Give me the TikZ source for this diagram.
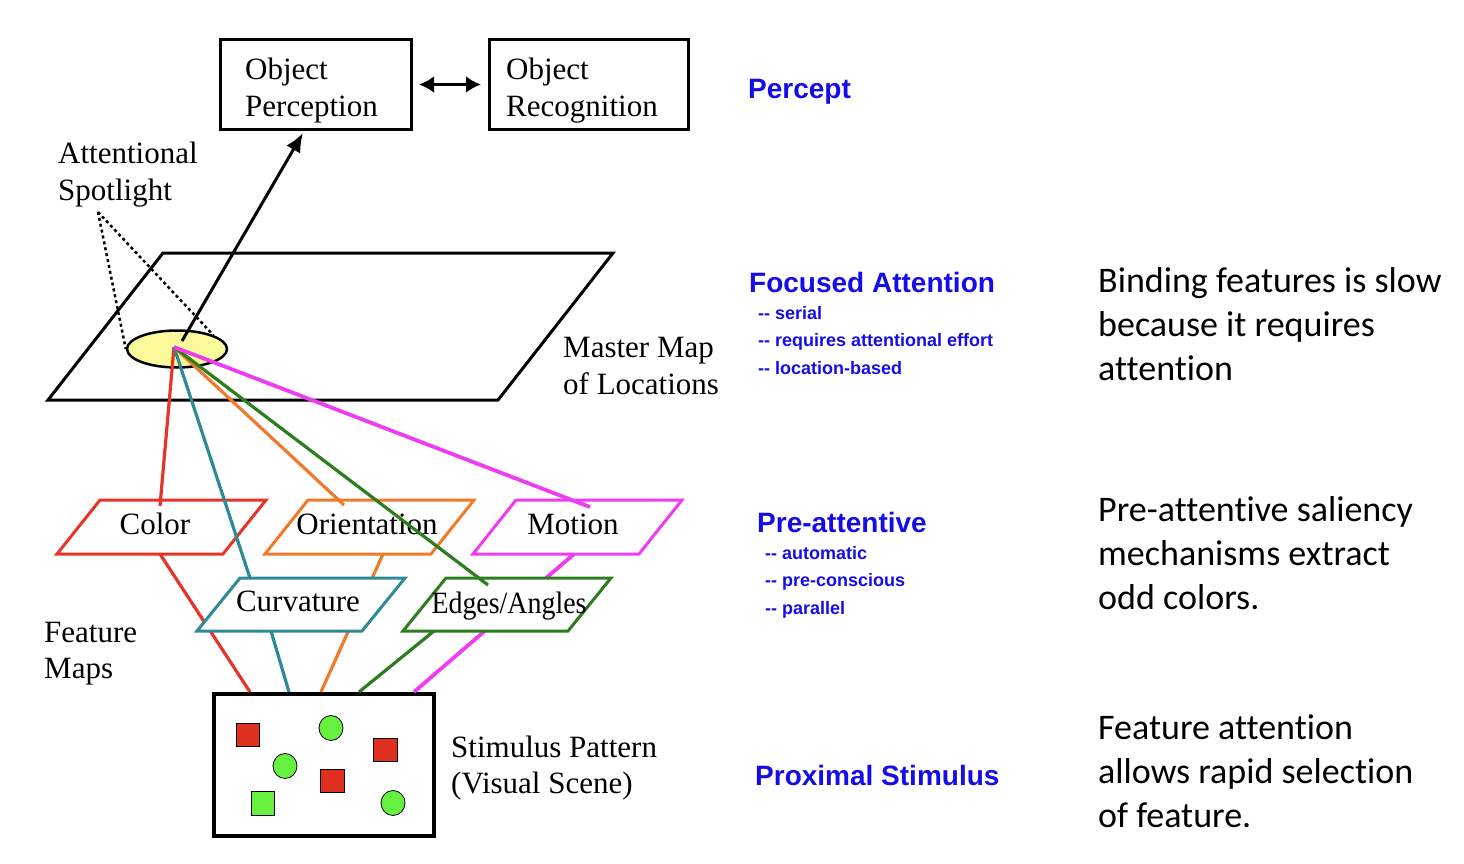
\documentclass[tikz,border=0pt]{standalone}
\usepackage{fontspec}
\setmainfont{Liberation Serif}
\newfontfamily\bluefont{Liberation Sans}
\newfontfamily\notefont[Ligatures={NoCommon}]{Carlito}
\newfontfamily\narrowserif[FakeStretch=0.9]{Liberation Serif}
\usetikzlibrary{arrows.meta,calc,shapes.geometric}
\definecolor{cred}{RGB}{232,52,40}
\definecolor{cteal}{RGB}{46,138,150}
\definecolor{corange}{RGB}{240,122,42}
\definecolor{cgreen}{RGB}{44,125,30}
\definecolor{cmag}{RGB}{240,60,240}
\definecolor{cyel}{RGB}{250,250,155}
\definecolor{cblue}{RGB}{22,12,232}
\definecolor{sred}{RGB}{224,48,32}
\definecolor{sgreen}{RGB}{102,240,64}
\begin{document}
\begin{tikzpicture}[x=1pt,y=-1pt,
  serif/.style={anchor=base west, inner sep=0pt, font=\fontsize{31}{37}\selectfont},
  heading/.style={anchor=base west, inner sep=0pt, text=cblue, font=\bluefont\bfseries\fontsize{28}{34}\selectfont},
  sub/.style={anchor=base west, inner sep=0pt, text=cblue, font=\bluefont\bfseries\fontsize{18}{22}\selectfont},
  note/.style={anchor=base west, inner sep=0pt, font=\notefont\fontsize{36}{44}\selectfont},
  objbox/.style={draw, line width=3pt, rectangle, minimum height=90pt, inner sep=0pt},
  fmap/.style={line width=3pt, fill=white, line join=miter},
  link/.style={line width=3.2pt},
  stsq/.style={draw=black, line width=0.8pt},
]
\useasboundingbox (0,0) rectangle (1464,864);

% top boxes
\node[objbox, minimum width=191pt] (op) at (316,84.5) {};
\node[objbox, minimum width=199pt] (or) at (589,84.5) {};
\node[serif] (opt1) at (245,80) {Object};
\node[serif] (opt2) at (245,117) {Perception};
\node[serif] (ort1) at (506,80) {Object};
\node[serif] (ort2) at (506,117) {Recognition};
\draw[line width=3.5pt, {Latex[length=15pt,width=17pt]}-{Latex[length=15pt,width=17pt]}, shorten <=6pt, shorten >=7pt] (op.east) -- (or.west);

% spotlight label
\node[serif] (al1) at (58,164) {Attentional};
\node[serif] (al2) at (58,200) {Spotlight};

% master map
\draw[line width=3pt, line join=miter] (48,400) -- (163,253) -- (613,253) -- (498,400) -- cycle;
\node[serif] (mm1) at (563,357) {Master Map};
\node[serif] (mm2) at (563,394) {of Locations};

% feature maps attach points
\coordinate (colT) at (160,506);  \coordinate (colB) at (160,554);
\coordinate (curT) at (250,578);  \coordinate (curB) at (271,631);
\coordinate (oriT) at (344,505);  \coordinate (oriB) at (383,554);
\coordinate (edgT) at (488,585);  \coordinate (edgB) at (434,631);
\coordinate (motT) at (590,507);  \coordinate (motB) at (574,554);

% stimulus box
\node[draw, line width=4pt, minimum width=220pt, minimum height=142pt, inner sep=0pt] (stim) at (324,765) {};
\coordinate (stR) at (250,692);
\coordinate (stT) at (289,692);
\coordinate (stO) at (321,692);
\coordinate (stG) at (359,692);
\coordinate (stM) at (414,692);

% lower links
\draw[link, cred] (colB) -- (stR);
\draw[link, cteal] (curB) -- (stT);
\draw[link, corange] (oriB) -- (stO);
\draw[link, cgreen] (edgB) -- (stG);
\draw[link, cmag, line width=3.8pt] (motB) -- (stM);

% feature boxes
\draw[fmap, draw=cred] (57,554) -- (100,500) -- (266,500) -- (223,554) -- cycle;
\draw[fmap, draw=corange] (265,554) -- (308,500) -- (474,500) -- (431,554) -- cycle;
\draw[fmap, draw=cmag] (473,554) -- (516,500) -- (682,500) -- (639,554) -- cycle;
\draw[fmap, draw=cteal] (197,631) -- (240,578) -- (405,578) -- (362,631) -- cycle;
\draw[fmap, draw=cgreen] (403,631) -- (446,578) -- (611,578) -- (568,631) -- cycle;
\node[serif, anchor=base] (tcol) at (155,534) {Color};
\node[serif, anchor=base] (tori) at (367,534) {Orientation};
\node[serif, anchor=base] (tmot) at (573,534) {Motion};
\node[serif, anchor=base] (tcur) at (298,611) {Curvature};
\node[serif, anchor=base, font=\narrowserif\fontsize{31}{37}\selectfont] (tedg) at (509,613) {Edges/Angles};
\node[serif] (fm1) at (44,642) {Feature};
\node[serif] (fm2) at (44,678) {Maps};

% spotlight ellipse
\node[ellipse, draw, line width=2.5pt, fill=cyel, minimum width=100pt, minimum height=37pt, inner sep=0pt] (spot) at (177,349) {};
\coordinate (c0) at (174,347);
\coordinate (sp0) at (182,341);
\coordinate (dotA) at (98,212);
\draw[line width=2.5pt, dash pattern=on 3pt off 3pt] (dotA) -- (spot.west);
\draw[line width=2.5pt, dash pattern=on 3pt off 3pt] (dotA) -- (spot.north east);
\draw[line width=3pt, -{Latex[length=19pt,width=16pt]}] (sp0) -- ($(op.south)+(-13,2)$);

% upper links
\draw[link, cred] (c0) -- (colT);
\draw[link, cteal] (c0) -- (curT);
\draw[link, corange] (c0) -- (oriT);
\draw[link, cgreen] (c0) -- (edgT);
\draw[link, cmag, line width=3.8pt] (c0) -- (motT);

% stimulus contents
\draw[stsq, fill=sred] (236,723) rectangle (259,746);
\draw[stsq, fill=sred] (373,738) rectangle (397,761);
\draw[stsq, fill=sred] (320,769) rectangle (344,792);
\draw[stsq, fill=sgreen] (251,791) rectangle (274,815);
\draw[stsq, fill=sgreen] (331,728) ellipse [x radius=12, y radius=12.5];
\draw[stsq, fill=sgreen] (285,766) ellipse [x radius=12, y radius=12.5];
\draw[stsq, fill=sgreen] (393,803) ellipse [x radius=12, y radius=12.5];
\node[serif] (sp1) at (451,757) {Stimulus Pattern};
\node[serif] (sp2) at (451,793) {(Visual Scene)};

% blue labels
\node[heading] (h1) at (748,99) {Percept};
\node[heading] (h2) at (749,292) {Focused Attention};
\node[sub] (h2a) at (758,319) {-{}- serial};
\node[sub] (h2b) at (758,346) {-{}- requires attentional effort};
\node[sub] (h2c) at (758,374) {-{}- location-based};
\node[heading] (h3) at (757,532) {Pre-attentive};
\node[sub] (h3a) at (765,559) {-{}- automatic};
\node[sub] (h3b) at (765,586) {-{}- pre-conscious};
\node[sub] (h3c) at (765,614) {-{}- parallel};
\node[heading] (h4) at (755,785) {Proximal Stimulus};

% notes
\node[note] (n1a) at (1098,292) {Binding features is slow};
\node[note] (n1b) at (1098,336) {because it requires};
\node[note] (n1c) at (1098,380) {attention};
\node[note] (n2a) at (1098,521) {Pre-attentive saliency};
\node[note] (n2b) at (1098,565) {mechanisms extract};
\node[note] (n2c) at (1098,609) {odd colors.};
\node[note] (n3a) at (1098,739) {Feature attention};
\node[note] (n3b) at (1098,783) {allows rapid selection};
\node[note] (n3c) at (1098,827) {of feature.};
\end{tikzpicture}
\end{document}
